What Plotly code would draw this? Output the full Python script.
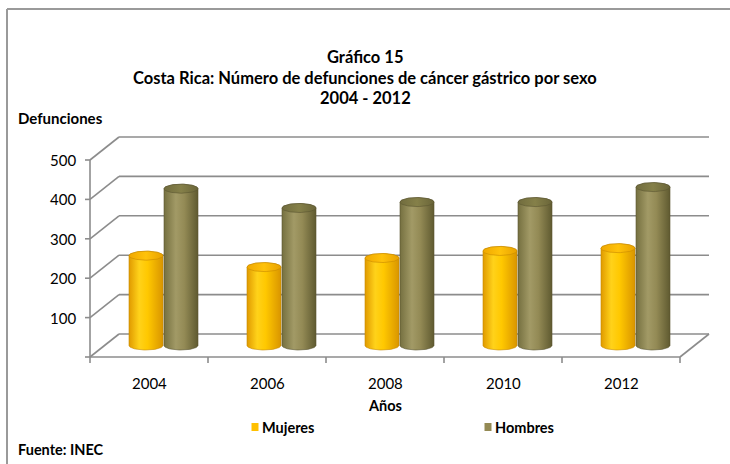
import numpy as np
import plotly.graph_objects as go

# Data
years = ["2004", "2006", "2008", "2010", "2012"]
mujeres = [228, 199, 222, 240, 247]
hombres = [398, 349, 364, 364, 402]
y_ticks = [100, 200, 300, 400, 500]

# Figure geometry (pixels)
W, H = 730, 464
PL, PR, PT, PB = 80, 712, 130, 365          # plot area edges
AX_X0, AX_Y0 = 90, 357                      # front-left corner of the floor
PX_PER_CAT = 118.0                          # pixels per category
PX_PER_VAL = 0.394                          # pixels per unit of value
DEPTH_PX = (29, 23)                         # 3-D depth offset (right, up)

DX = DEPTH_PX[0] / PX_PER_CAT
DY = DEPTH_PX[1] / PX_PER_VAL
x_range = [(PL - AX_X0) / PX_PER_CAT, (PR - AX_X0) / PX_PER_CAT]
y_range = [-(PB - AX_Y0) / PX_PER_VAL, (AX_Y0 - PT) / PX_PER_VAL]


def xp(px):
    return (px - PL) / (PR - PL)


def yp(py):
    return (PB - py) / (PB - PT)


def val_to_py(v):
    return AX_Y0 - v * PX_PER_VAL


def cat_to_px(c):
    return AX_X0 + c * PX_PER_CAT


GRID = "#8c8c8c"
FONT = "Lato"

fig = go.Figure()

# Cylinder shapes
HALF_W = 17 / PX_PER_CAT
ELL_B = 4.5 / PX_PER_VAL
OFFSET = 17.5 / PX_PER_CAT
theta_lo = np.linspace(np.pi, 2 * np.pi, 40)
theta_hi = np.linspace(0, np.pi, 40)
theta_full = np.linspace(0, 2 * np.pi, 80)

series = [
    ("Mujeres", mujeres, -OFFSET,
     [[0, "#E09A00"], [0.3, "#FFD21A"], [0.55, "#FFC800"], [1, "#D99500"]],
     [[0, "#F0A800"], [0.5, "#FFC20A"], [1, "#E8A200"]], "#C88A00"),
    ("Hombres", hombres, OFFSET,
     [[0, "#757040"], [0.35, "#A29A66"], [0.6, "#938A55"], [1, "#5F5A30"]],
     [[0, "#716C3E"], [0.5, "#858049"], [1, "#6A6539"]], "#5A5530"),
]

for name, vals, off, body_cs, top_cs, edge in series:
    for i, v in enumerate(vals):
        xc = i + 0.5 + DX / 2 + off
        y0 = DY / 2
        yt = v + DY / 2
        bx = np.concatenate([xc + HALF_W * np.cos(theta_lo), xc + HALF_W * np.cos(theta_hi)])
        by = np.concatenate([y0 + ELL_B * np.sin(theta_lo), yt + ELL_B * np.sin(theta_hi)])
        fig.add_trace(go.Scatter(
            x=np.append(bx, bx[0]), y=np.append(by, by[0]), mode="lines",
            fill="toself", line=dict(color=edge, width=0.6),
            fillgradient=dict(type="horizontal", colorscale=body_cs),
            hoverinfo="skip", showlegend=False))
        tx = xc + HALF_W * np.cos(theta_full)
        ty = yt + ELL_B * np.sin(theta_full)
        fig.add_trace(go.Scatter(
            x=tx, y=ty, mode="lines", fill="toself",
            line=dict(color=edge, width=0.6),
            fillgradient=dict(type="horizontal", colorscale=top_cs),
            hovertext=f"{name} {years[i]}: {v}", hoverinfo="text",
            showlegend=False))

# Walls, floor and gridlines
shapes = []
line_style = dict(color=GRID, width=1.6)
n = len(years)
for v in [0] + y_ticks:
    shapes.append(dict(type="line", x0=DX, y0=v + DY, x1=n + DX, y1=v + DY,
                       line=line_style, layer="below"))
    shapes.append(dict(type="line", x0=0, y0=v, x1=DX, y1=v + DY,
                       line=line_style, layer="below"))
    shapes.append(dict(type="line", x0=-5 / PX_PER_CAT, y0=v, x1=0, y1=v,
                       line=line_style, layer="below"))
shapes.append(dict(type="line", x0=0, y0=0, x1=0, y1=y_ticks[-1],
                   line=line_style, layer="below"))
shapes.append(dict(type="line", x0=0, y0=0, x1=n, y1=0, line=line_style, layer="below"))
shapes.append(dict(type="line", x0=n, y0=0, x1=n + DX, y1=DY, line=line_style, layer="below"))
for i in range(n + 1):
    shapes.append(dict(type="line", x0=i, y0=0, x1=i, y1=-6 / PX_PER_VAL,
                       line=line_style, layer="below"))

# Outer chart border (top and left edges)
border = dict(color="#9a9a9a", width=2)
shapes.append(dict(type="line", xref="paper", yref="paper",
                   x0=xp(7), y0=yp(9), x1=xp(W), y1=yp(9), line=border))
shapes.append(dict(type="line", xref="paper", yref="paper",
                   x0=xp(7), y0=yp(9), x1=xp(7), y1=yp(H), line=border))

# Legend swatches
leg_items = [("Mujeres", "#FFC000", 255), ("Hombres", "#948A54", 488)]
for label_text, col, px in leg_items:
    shapes.append(dict(type="rect", xref="paper", yref="paper",
                       x0=xp(px - 3.5), x1=xp(px + 3.5), y0=yp(431), y1=yp(423),
                       fillcolor=col, line=dict(width=0)))

annotations = []
black = "#000000"


def label(text, px, py, size, anchor="center", bold=True):
    annotations.append(dict(x=xp(px), y=yp(py), xref="paper", yref="paper",
                            text=f"<b>{text}</b>" if bold else text, showarrow=False,
                            xanchor=anchor, yanchor="middle",
                            font=dict(family=FONT, size=size, color=black)))


for t in y_ticks:
    label(str(t), AX_X0 - 12, val_to_py(t), 15, anchor="right", bold=False)
for i, yr in enumerate(years):
    label(yr, cat_to_px(i + 0.5), 383, 15, bold=False)

label("Gráfico 15", 365, 57, 16.5)
label("Costa Rica: Número de defunciones de cáncer gástrico por sexo", 365, 78, 16.5)
label("2004 - 2012", 365, 98, 16.5)
label("Defunciones", 16, 118, 15, anchor="left")
label("Años", 385, 405, 14.5)
label("Fuente: INEC", 16, 449, 14.5, anchor="left")
for text, col, px in leg_items:
    label(text, px + 5, 427, 14.5, anchor="left")

fig.update_layout(
    width=W, height=H,
    margin=dict(l=PL, r=W - PR, t=PT, b=H - PB),
    paper_bgcolor="white", plot_bgcolor="white",
    xaxis=dict(range=x_range, visible=False, fixedrange=True),
    yaxis=dict(range=y_range, visible=False, fixedrange=True),
    showlegend=False,
    shapes=shapes,
    annotations=annotations,
)

fig.write_html("out.html")
